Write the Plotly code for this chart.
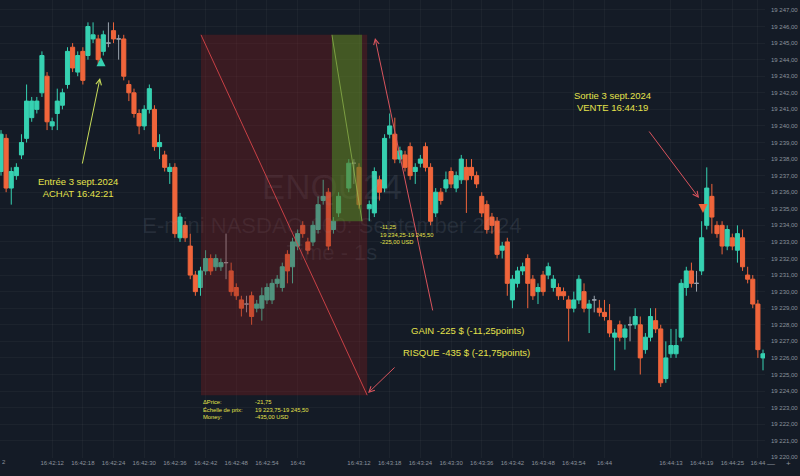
import plotly.graph_objects as go

# ---------------- data (1-second candles, t = seconds after 16:42:00) ----------------
t = [2, 3, 4, 5, 6, 7, 8, 9, 10, 11, 12, 13, 14, 15, 16, 17, 18, 19, 20, 21,
     22, 23, 24, 25, 26, 27, 28, 29, 30, 31, 32, 33, 34, 35, 36, 37, 38, 39, 40, 41,
     42, 43, 44, 45, 46, 47, 48, 49, 50, 51, 52, 53, 54, 55, 56, 57, 58, 59, 60, 61,
     62, 63, 64, 65, 66, 67, 68, 70, 71, 72, 74, 75, 76, 77, 78, 79, 80, 81, 82, 83,
     84, 85, 86, 87, 88, 89, 90, 91, 92, 93, 94, 95, 96, 97, 98, 99, 100, 101, 102, 103,
     104, 105, 106, 107, 108, 109, 110, 111, 112, 113, 114, 115, 116, 117, 118, 119, 120, 121, 122, 123,
     124, 125, 126, 127, 128, 129, 130, 131, 132, 133, 134, 135, 136, 137, 138, 139, 140, 141, 142, 143,
     144, 145, 146, 147, 148, 149, 150, 151]
o = [19237.25, 19239.25, 19236.25, 19237.0, 19238.25, 19239.25, 19240.5, 19241.0, 19242.0, 19243.0,
     19240.0, 19240.75, 19241.25, 19242.5, 19244.75, 19243.25, 19244.5, 19244.25, 19245.25, 19245.25,
     19244.5, 19245.0, 19245.75, 19245.25, 19245.25, 19242.5, 19242.0, 19240.75, 19240.0, 19241.0,
     19241.0, 19238.75, 19238.25, 19237.25, 19237.5, 19233.25, 19234.0, 19232.75, 19231.0, 19230.25,
     19231.25, 19232.0, 19231.5, 19231.5, 19231.75, 19231.25, 19230.25, 19229.5, 19229.25, 19229.75,
     19229.0, 19229.0, 19229.5, 19229.5, 19230.5, 19230.25, 19232.25, 19231.5, 19232.75, 19234.0,
     19233.0, 19233.0, 19233.75, 19235.5, 19236.0, 19233.75, 19234.75, 19236.25, 19237.75, 19237.5,
     19235.0, 19234.75, 19236.75, 19236.25, 19239.5, 19239.5, 19238.0, 19238.25, 19238.75, 19237.25,
     19237.75, 19238.75, 19237.5, 19234.75, 19236.0, 19236.25, 19237.25, 19236.25, 19236.75, 19237.5,
     19237.5, 19237.0, 19235.75, 19235.25, 19234.5, 19234.25, 19232.5, 19233.0, 19229.5, 19230.5,
     19231.25, 19232.0, 19230.75, 19230.0, 19231.0, 19231.0, 19230.25, 19230.25, 19230.0, 19229.5,
     19229.0, 19229.5, 19230.0, 19229.0, 19229.5, 19229.0, 19228.75, 19228.25, 19227.25, 19228.0,
     19227.25, 19228.0, 19228.0, 19228.0, 19226.5, 19227.25, 19228.25, 19227.75, 19224.75, 19226.25,
     19226.25, 19227.25, 19230.25, 19231.25, 19230.5, 19231.25, 19234.0, 19235.75, 19234.0, 19234.0,
     19232.75, 19233.25, 19232.5, 19233.25, 19231.0, 19230.75, 19229.25, 19226.0]
h = [19239.75, 19239.5, 19237.5, 19237.75, 19239.5, 19242.5, 19241.75, 19241.75, 19244.5, 19243.25,
     19240.5, 19242.25, 19242.25, 19244.75, 19245.0, 19244.5, 19244.75, 19246.25, 19246.25, 19245.5,
     19245.75, 19246.25, 19246.25, 19245.5, 19245.5, 19242.75, 19242.25, 19241.0, 19241.25, 19242.5,
     19241.25, 19239.5, 19238.5, 19237.75, 19237.75, 19234.75, 19234.25, 19233.5, 19231.25, 19231.5,
     19232.5, 19232.25, 19232.25, 19232.0, 19233.5, 19231.75, 19230.5, 19229.75, 19229.75, 19230.0,
     19229.5, 19230.25, 19230.5, 19230.75, 19231.0, 19231.75, 19232.5, 19233.25, 19233.75, 19234.25,
     19233.25, 19234.25, 19235.75, 19236.75, 19236.25, 19234.5, 19236.0, 19238.0, 19238.0, 19237.75,
     19235.5, 19237.5, 19237.0, 19239.5, 19240.75, 19240.5, 19238.75, 19238.5, 19239.0, 19237.75,
     19238.25, 19239.0, 19237.75, 19236.25, 19236.25, 19237.25, 19237.5, 19237.25, 19238.25, 19238.0,
     19238.0, 19237.25, 19236.0, 19235.5, 19234.75, 19234.5, 19233.0, 19233.25, 19231.0, 19231.5,
     19231.75, 19232.25, 19231.0, 19230.5, 19231.25, 19231.75, 19231.0, 19230.5, 19230.25, 19229.75,
     19230.0, 19231.0, 19230.5, 19229.5, 19229.75, 19229.5, 19229.5, 19229.25, 19227.75, 19228.25,
     19228.0, 19228.5, 19229.0, 19228.5, 19227.5, 19229.0, 19229.0, 19228.0, 19227.0, 19227.75,
     19227.75, 19230.75, 19231.5, 19231.75, 19231.25, 19234.25, 19237.5, 19236.5, 19234.25, 19234.25,
     19234.0, 19233.5, 19234.0, 19233.75, 19231.5, 19231.0, 19229.5, 19226.5]
l = [19237.0, 19236.0, 19235.25, 19236.75, 19238.0, 19239.0, 19240.25, 19240.75, 19241.75, 19239.75,
     19239.75, 19239.75, 19241.0, 19242.25, 19243.25, 19243.0, 19242.5, 19244.0, 19245.0, 19243.75,
     19244.25, 19244.75, 19245.0, 19244.0, 19242.75, 19241.5, 19240.5, 19239.5, 19239.75, 19240.75,
     19238.5, 19238.0, 19237.25, 19236.5, 19233.25, 19233.0, 19233.0, 19230.75, 19229.75, 19229.75,
     19231.0, 19231.0, 19231.25, 19231.25, 19230.75, 19229.75, 19229.5, 19228.5, 19228.75, 19228.0,
     19228.75, 19228.25, 19229.25, 19229.25, 19230.25, 19230.0, 19230.5, 19230.5, 19232.5, 19233.25,
     19232.25, 19232.75, 19233.5, 19235.25, 19232.5, 19233.5, 19234.5, 19236.0, 19236.5, 19235.0,
     19234.25, 19234.5, 19235.5, 19236.0, 19239.25, 19237.75, 19237.75, 19237.25, 19236.75, 19236.5,
     19237.5, 19237.25, 19234.0, 19234.5, 19235.25, 19236.0, 19236.25, 19236.0, 19236.5, 19234.75,
     19236.75, 19236.25, 19234.5, 19233.5, 19233.5, 19232.0, 19232.0, 19229.75, 19229.0, 19230.25,
     19231.0, 19229.0, 19229.5, 19229.25, 19229.75, 19230.75, 19230.0, 19229.5, 19229.5, 19227.0,
     19228.75, 19229.25, 19228.75, 19227.5, 19228.75, 19228.5, 19228.25, 19227.25, 19225.25, 19227.0,
     19226.5, 19227.0, 19227.75, 19225.0, 19226.25, 19227.0, 19227.5, 19224.25, 19224.5, 19226.0,
     19226.0, 19227.0, 19229.75, 19230.25, 19230.0, 19231.0, 19233.75, 19233.5, 19233.25, 19232.25,
     19232.5, 19232.5, 19231.75, 19231.25, 19230.5, 19229.0, 19226.0, 19225.25]
c = [19239.5, 19236.25, 19237.25, 19237.5, 19239.0, 19241.5, 19241.5, 19241.5, 19244.25, 19240.25,
     19240.25, 19241.5, 19242.0, 19244.5, 19243.5, 19244.25, 19242.75, 19246.0, 19245.5, 19244.0,
     19245.5, 19245.0, 19245.25, 19245.25, 19243.0, 19242.0, 19240.75, 19240.0, 19241.0, 19242.25,
     19238.75, 19239.0, 19237.5, 19237.5, 19233.5, 19234.5, 19233.25, 19231.0, 19230.0, 19231.25,
     19232.0, 19231.25, 19232.0, 19231.75, 19231.75, 19230.0, 19229.75, 19229.0, 19229.25, 19228.5,
     19229.25, 19229.75, 19230.25, 19230.5, 19230.75, 19231.5, 19231.25, 19233.0, 19233.5, 19233.5,
     19232.5, 19234.0, 19235.25, 19235.75, 19232.75, 19234.25, 19235.75, 19237.75, 19237.75, 19235.25,
     19235.25, 19237.25, 19236.0, 19239.25, 19240.0, 19238.0, 19238.5, 19237.5, 19237.0, 19237.5,
     19238.0, 19237.5, 19234.25, 19236.0, 19235.5, 19236.75, 19236.5, 19237.0, 19238.0, 19236.75,
     19237.0, 19236.5, 19234.75, 19233.75, 19234.0, 19232.25, 19232.75, 19230.5, 19230.75, 19231.25,
     19231.5, 19230.5, 19229.75, 19230.25, 19230.0, 19231.5, 19230.75, 19229.75, 19229.75, 19229.0,
     19229.5, 19230.75, 19229.0, 19229.25, 19229.5, 19228.75, 19228.5, 19227.5, 19227.5, 19227.25,
     19227.75, 19228.0, 19228.5, 19226.0, 19227.25, 19228.5, 19227.75, 19224.5, 19226.0, 19226.75,
     19226.75, 19230.5, 19231.25, 19230.5, 19230.5, 19233.25, 19236.25, 19234.5, 19233.5, 19232.75,
     19233.75, 19232.75, 19233.5, 19231.5, 19230.75, 19229.25, 19226.5, 19226.25]

price_ticks = list(range(19220, 19248))
price_labels = ["%d %03d,00" % (v // 1000, v % 1000) for v in price_ticks]
time_ticks = [12, 18, 24, 30, 36, 42, 48, 54, 60, 72, 78, 84, 90, 96, 102, 108, 114, 120,
              133, 139, 145, 150]
time_labels = ["16:42:12", "16:42:18", "16:42:24", "16:42:30", "16:42:36", "16:42:42",
               "16:42:48", "16:42:54", "16:43", "16:43:12", "16:43:18", "16:43:24",
               "16:43:30", "16:43:36", "16:43:42", "16:43:48", "16:43:54", "16:44",
               "16:44:13", "16:44:19", "16:44:25", "16:44"]

# position tool
risk_top, target_bottom, risk_bottom = 19245.50, 19234.25, 19223.75
tool_start, tool_split, tool_green_end, tool_end = 41.1, 66.7, 72.6, 73.6
entry_t, entry_p = 21.55, 19244.15
exit_t, exit_p = 139.27, 19234.75

UP, DOWN, DOJI = "#36d1b1", "#f0653b", "#9aa3ad"
YEL = "#e4e24c"
ARROW_RED = "#d9545d"
BG = "#141b26"
AXIS_TXT = "#8b929c"
FONT = "Liberation Sans, Arial, sans-serif"

norm = [i for i in range(len(t)) if o[i] != c[i]]
doji = [i for i in range(len(t)) if o[i] == c[i]]

fig = go.Figure()

# watermark
fig.add_trace(go.Scatter(
    x=[66.7, 66.7, 66.7], y=[19236.1, 19233.9, 19232.25], mode="text",
    text=["ENQU24", "E-mini NASDAQ 100: September 2024", "Time - 1s"],
    textfont=dict(size=[35, 22, 22], color="rgba(160,175,195,0.13)", family=FONT),
    hoverinfo="skip", showlegend=False))

fig.add_trace(go.Candlestick(
    x=[t[i] for i in norm], open=[o[i] for i in norm], high=[h[i] for i in norm],
    low=[l[i] for i in norm], close=[c[i] for i in norm],
    increasing=dict(line=dict(color=UP, width=1), fillcolor=UP),
    decreasing=dict(line=dict(color=DOWN, width=1), fillcolor=DOWN),
    whiskerwidth=0, showlegend=False, hoverinfo="skip"))
fig.add_trace(go.Candlestick(
    x=[t[i] for i in doji], open=[o[i] for i in doji], high=[h[i] for i in doji],
    low=[l[i] for i in doji], close=[c[i] for i in doji],
    increasing=dict(line=dict(color=DOJI, width=1), fillcolor=DOJI),
    decreasing=dict(line=dict(color=DOJI, width=1), fillcolor=DOJI),
    whiskerwidth=0, showlegend=False, hoverinfo="skip"))

shapes = [
    dict(type="rect", x0=tool_start, x1=tool_end, y0=risk_bottom, y1=risk_top,
         fillcolor="rgba(130,30,30,0.35)", line=dict(width=0), layer="above"),
    dict(type="rect", x0=tool_split, x1=tool_green_end, y0=target_bottom, y1=risk_top,
         fillcolor="rgba(80,165,40,0.45)", line=dict(width=0), layer="above"),
    dict(type="line", x0=tool_start, y0=risk_top, x1=tool_end, y1=risk_bottom,
         line=dict(color="rgba(225,70,75,0.85)", width=1), layer="above"),
    dict(type="line", x0=tool_split, y0=risk_top, x1=tool_green_end, y1=target_bottom,
         line=dict(color="rgba(170,215,90,0.55)", width=1), layer="above"),
]

ann = []
# arrows
for (x, y, ax, ay, col) in [(21.36, 19242.89, -18, 87, "#c8dc5a"),
                            (138.49, 19235.65, -51, -68, ARROW_RED),
                            (75.13, 19245.31, 58, 274, ARROW_RED),
                            (73.77, 19223.88, 28, -27, ARROW_RED)]:
    ann.append(dict(x=x, y=y, xref="x", yref="y", ax=ax, ay=ay, text="",
                    showarrow=True, arrowhead=5, arrowsize=1.1, arrowwidth=1,
                    arrowcolor=col))
# execution markers
ann.append(dict(x=entry_t, y=entry_p, ax=0, ay=9, text="", showarrow=True,
                arrowhead=2, arrowsize=0.9, arrowwidth=2, arrowcolor=UP))
ann.append(dict(x=exit_t, y=exit_p, ax=0, ay=-9, text="", showarrow=True,
                arrowhead=2, arrowsize=0.9, arrowwidth=2, arrowcolor=DOWN))
# texts
for (x, y, txt) in [(17.06, 19236.31, "Entrée 3 sept.2024<br>ACHAT 16:42:21"),
                    (121.48, 19241.5, "Sortie 3 sept.2024<br>VENTE 16:44:19"),
                    (93.3, 19227.68, "GAIN -225 $ (-11,25points)"),
                    (92.93, 19226.3, "RISQUE -435 $ (-21,75points)")]:
    ann.append(dict(x=x, y=y, text=txt, showarrow=False, align="center",
                    font=dict(size=9.5, color=YEL, family=FONT)))
small = dict(size=5.8, color=YEL, family=FONT)
ann.append(dict(x=tool_start, y=risk_bottom, xanchor="left", yanchor="top", yshift=-2,
                text="ΔPrice:<br>Échelle de prix:<br>Money:", align="left",
                showarrow=False, font=small))
ann.append(dict(x=tool_start, y=risk_bottom, xanchor="left", yanchor="top", yshift=-2,
                xshift=52, text="-21,75<br>19 223,75-19 245,50<br>-435,00 USD",
                align="left", showarrow=False, font=small))
ann.append(dict(x=tool_end, y=target_bottom, xanchor="left", yanchor="top", yshift=-1,
                xshift=11, text="-11,25<br>19 234,25-19 245,50<br>-225,00 USD",
                align="left", showarrow=False, font=small))
# bottom-bar bits
ann.append(dict(xref="paper", yref="paper", x=0.0, y=-0.0197, xanchor="left",
                text="2", showarrow=False, font=dict(size=6, color=AXIS_TXT, family=FONT)))
for (px, s) in [(777, "—"), (793, "+")]:
    ann.append(dict(xref="paper", yref="paper", x=px / 765, y=-0.027, text=s,
                    showarrow=False, font=dict(size=8, color=AXIS_TXT, family=FONT)))

fig.update_layout(
    width=800, height=476, margin=dict(l=0, r=35, t=0, b=18),
    paper_bgcolor=BG, plot_bgcolor=BG, showlegend=False,
    shapes=shapes, annotations=ann, boxgap=0.2, boxgroupgap=0,
    font=dict(family=FONT, color=AXIS_TXT, size=6),
    xaxis=dict(range=[1.8, 151.39], tickvals=time_ticks, ticktext=time_labels,
               showgrid=True, gridcolor="rgba(255,255,255,0.035)", zeroline=False,
               showline=False, ticks="", tickfont=dict(size=6, color=AXIS_TXT),
               rangeslider=dict(visible=False), fixedrange=True),
    yaxis=dict(side="right", range=[19219.96, 19247.6], tickvals=price_ticks,
               ticktext=price_labels, showgrid=True, gridcolor="rgba(255,255,255,0.035)",
               zeroline=False, showline=False, ticks="", ticklabelstandoff=5,
               tickfont=dict(size=6, color=AXIS_TXT), fixedrange=True),
)

fig.write_html("out.html", config={"displayModeBar": False},
               post_script="document.body.style.margin='0';document.body.style.background='%s';" % BG)
